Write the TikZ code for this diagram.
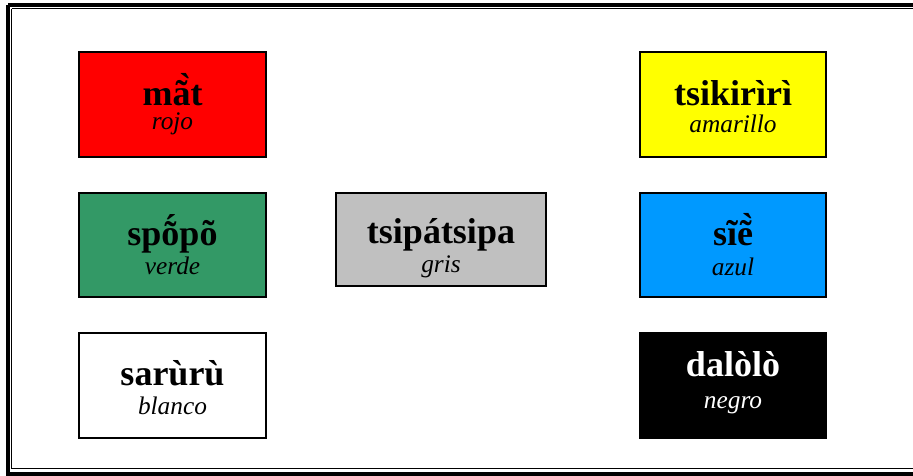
\documentclass[tikz,border=0pt]{standalone}
\usepackage{fontspec}
\setmainfont{Liberation Serif}
\definecolor{cred}{HTML}{FF0000}
\definecolor{cgreen}{HTML}{339966}
\definecolor{cgray}{HTML}{C0C0C0}
\definecolor{cyellow}{HTML}{FFFF00}
\definecolor{cblue}{HTML}{0099FF}
\begin{document}
\begin{tikzpicture}[x=0.75pt,y=-0.75pt,
  colbox/.style={draw=black,line width=1.5pt,inner sep=0pt,minimum width={#1*0.75pt}},
  ttl/.style={anchor=base,inner sep=0pt,font=\fontsize{27}{30}\selectfont\bfseries},
  sub/.style={anchor=base,inner sep=0pt,font=\fontsize{19}{22}\selectfont\itshape}]
\useasboundingbox (0,0) rectangle (913,475);
\fill[white] (0,0) rectangle (913,475);
\draw[line width=3pt] (8,5) -- (920,5);
\draw[line width=3pt] (8,5) -- (8,474) -- (920,474);
\draw[line width=1pt] (11.5,8.5) -- (920,8.5);
\draw[line width=1pt] (11.5,8.5) -- (11.5,468.5) -- (920,468.5);
% boxes
\draw[line width=1.5pt,fill=cred] (79,52) rectangle (266,157);
\node (b1) at (172.5,104.5) {};
\draw[line width=1.5pt,fill=cgreen] (79,193) rectangle (266,297);
\node (b2) at (172.5,245) {};
\draw[line width=1.5pt,fill=white] (79,333) rectangle (266,438);
\node (b3) at (172.5,385.5) {};
\draw[line width=1.5pt,fill=cgray] (336,193) rectangle (546,286);
\node (b4) at (441,239.5) {};
\draw[line width=1.5pt,fill=cyellow] (640,52) rectangle (826,157);
\node (b5) at (733,104.5) {};
\draw[line width=1.5pt,fill=cblue] (640,193) rectangle (826,297);
\node (b6) at (733,245) {};
\draw[line width=1.5pt,fill=black] (640,333) rectangle (826,438);
\node (b7) at (733,385.5) {};
% texts
\node[ttl] (t1) at (172.5,105) {mã̀t};
\node[sub] (s1) at (172.5,129) {rojo};
\node[ttl] (t2) at (172.5,245) {spṍpõ};
\node[sub] (s2) at (172.5,274) {verde};
\node[ttl] (t3) at (172.5,385) {sarùrù};
\node[sub] (s3) at (172.5,414) {blanco};
\node[ttl] (t4) at (441,243) {tsipátsipa};
\node[sub] (s4) at (441,272) {gris};
\node[ttl] (t5) at (733,105) {tsikirìrì};
\node[sub] (s5) at (733,132) {amarillo};
\node[ttl] (t6) at (733,245) {sĩẽ̀};
\node[sub] (s6) at (733,275) {azul};
\node[ttl,text=white] (t7) at (733,376) {dalòlò};
\node[sub,text=white] (s7) at (733,408) {negro};
\end{tikzpicture}
\end{document}
